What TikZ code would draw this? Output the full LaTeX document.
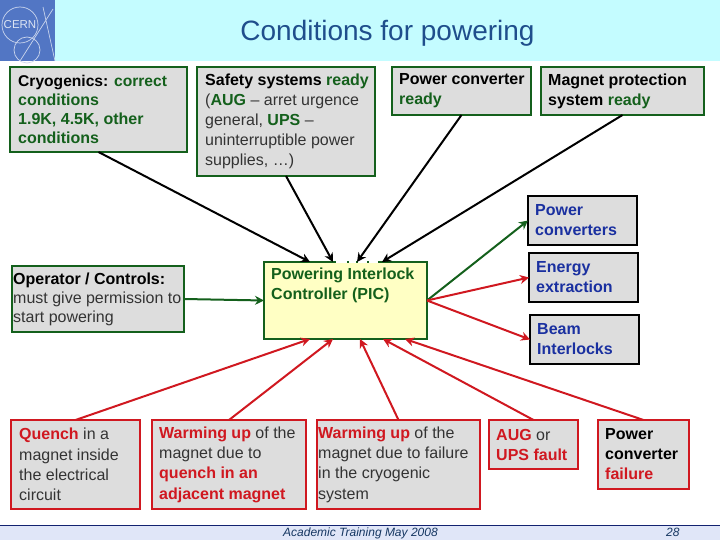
\documentclass[tikz,border=0pt]{standalone}
\usepackage{fontspec}
\setmainfont{Liberation Sans}
\usetikzlibrary{arrows.meta,calc}
\definecolor{gfill}{HTML}{DDDDDD}
\definecolor{dgreen}{HTML}{14601C}
\definecolor{dred}{HTML}{D01820}
\definecolor{dblue}{HTML}{1A30A0}
\definecolor{titleblue}{HTML}{1F4E8C}
\definecolor{headbg}{HTML}{C4FCFF}
\definecolor{footbg}{HTML}{E0E6F8}
\definecolor{picbg}{HTML}{FFFFC4}
\definecolor{logobg}{HTML}{5276C4}
\newcommand{\G}[1]{\textcolor{dgreen}{\textbf{#1}}}
\newcommand{\Rd}[1]{\textcolor{dred}{\textbf{#1}}}
\newcommand{\Bl}[1]{\textcolor{dblue}{\textbf{#1}}}
\newcommand{\Bf}[1]{\textcolor{black}{\textbf{#1}}}
\tikzset{x=1pt,y=-1pt,
  box/.style={draw,line width=2pt,fill=gfill,inner sep=0pt,outer sep=0pt,anchor=north west},
  gbox/.style={box,draw=dgreen},
  rbox/.style={box,draw=dred},
  kbox/.style={box,draw=black},
  arr/.style={line width=2pt,-{Stealth[length=9pt,width=9pt]}},
  karr/.style={arr,black},
  rarr/.style={arr,dred},
  garr/.style={arr,dgreen},
  foottext/.style={anchor=base west,inner sep=0pt,font=\fontsize{12}{14}\selectfont\itshape,text=titleblue!70!black}}
% name, style, x0, y0, x1, y1, text left x, line skip, text
\newcommand{\bx}[9]{%
  \pgfmathsetlengthmacro{\bw}{#5-#3}%
  \pgfmathsetlengthmacro{\bh}{#6-#4}%
  \node[#2,minimum width=\bw,minimum height=\bh] (#1) at (#3,#4) {};%
  \node[anchor=west,inner sep=0pt,align=left,text=black!80,font=\fontsize{16}{#8}\selectfont] (#1text) at (#7,{(#4+#6)/2}) {#9};%
}
\begin{document}
\begin{tikzpicture}
\useasboundingbox (0,0) rectangle (720,540);
\fill[headbg] (0,0) rectangle (720,61);
\fill[footbg] (0,525.5) rectangle (720,540);
\draw[line width=0.6pt,dblue!70!black] (0,525.5) -- (720,525.5);
% logo
\fill[logobg] (0,0) rectangle (55,61);
\draw[white!70!logobg,line width=0.7pt] (20,25) circle (18);
\draw[white!70!logobg,line width=0.7pt] (27,50) circle (13);
\draw[white!70!logobg,line width=0.7pt] (43,7) -- (55,61) (53,9) -- (20,61);
\node[white!80!logobg,font=\fontsize{11.5}{12}\selectfont,inner sep=0pt] (logo) at (20,25) {CERN};
\node[titleblue,font=\fontsize{28}{30}\selectfont,inner sep=0pt] (title) at (387.5,33) {Conditions for powering};
% top boxes
\bx{cryo}{gbox}{10}{67}{187}{152}{18}{19}{\fontsize{15.6}{19}\selectfont\Bf{Cryogenics:} \G{correct}\\\G{conditions}\\\G{1.9K, 4.5K, other}\\\G{conditions}}
\bx{saf}{gbox}{197}{67}{375}{176}{205}{20}{\Bf{Safety systems} \G{ready}\\(\G{AUG} -- arret urgence\\general, \G{UPS} --\\uninterruptible power\\supplies, \ldots)}
\bx{pc}{gbox}{392}{67}{531}{115}{399}{20}{\Bf{Power converter}\\\G{ready}}
\bx{mp}{gbox}{541}{67}{704}{115}{548}{20}{\Bf{Magnet protection}\\\Bf{system} \G{ready}}
% right boxes
\bx{pconv}{kbox}{528}{196}{637}{245}{535}{20}{\Bl{Power}\\\Bl{converters}}
\bx{energy}{kbox}{529}{253}{638}{302}{536}{20}{\Bl{Energy}\\\Bl{extraction}}
\bx{beam}{kbox}{530}{315}{639}{364}{537}{20}{\Bl{Beam}\\\Bl{Interlocks}}
% middle
\bx{op}{gbox}{12}{266}{184}{332}{13}{19}{\Bf{Operator / Controls:}\\must give permission to\\start powering}
\node[gbox,fill=picbg,minimum width=163pt,minimum height=77pt] (pic) at (264,262) {};
\node[anchor=west,inner sep=0pt,align=left,font=\fontsize{16}{20}\selectfont,text=dgreen] (pictext) at (271,285.5) {\textbf{Powering Interlock}\\\textbf{Controller (PIC)}};
\draw[white,line width=2.4pt,dash pattern=on 11pt off 2pt on 7pt off 2pt on 9pt off 2pt on 9pt off 9pt] (336,262) -- (378,262);
% bottom boxes
\bx{q}{rbox}{11}{420}{140}{509}{19}{20.3}{\Rd{Quench} in a\\magnet inside\\the electrical\\circuit}
\bx{wa}{rbox}{152}{420}{306}{509}{159}{20.3}{\Rd{Warming up} of the\\magnet due to\\\Rd{quench in an}\\\Rd{adjacent magnet}}
\bx{wb}{rbox}{317}{420}{480}{509}{318}{20.3}{\Rd{Warming up} of the\\magnet due to failure\\in the cryogenic\\system}
\bx{aug}{rbox}{489}{420}{578}{469}{496}{20}{\Rd{AUG} or\\\Rd{UPS fault}}
\bx{pf}{rbox}{598}{420}{689}{489}{605}{20}{\Bf{Power}\\\Bf{converter}\\\Rd{failure}}
% arrows
\draw[karr] (cryo.south) -- ($(pic.north west)+(46,0)$);
\draw[karr] (saf.south) -- ($(pic.north west)+(69,0)$);
\draw[karr] (pc.south) -- ($(pic.north west)+(93,0)$);
\draw[karr] (mp.south) -- ($(pic.north west)+(118,0)$);
\draw[garr] (op.east) -- (pic.west);
\draw[garr] (pic.east) -- (pconv.west);
\draw[rarr] (pic.east) -- (energy.west);
\draw[rarr] (pic.east) -- (beam.west);
\draw[rarr] (q.north) -- ($(pic.south west)+(46,0)$);
\draw[rarr] (wa.north) -- ($(pic.south west)+(69,0)$);
\draw[rarr] (wb.north) -- ($(pic.south west)+(96,0)$);
\draw[rarr] (aug.north) -- ($(pic.south west)+(119,0)$);
\draw[rarr] (pf.north) -- ($(pic.south west)+(141,0)$);
% footer
\node[foottext] (foot) at (283,536.5) {Academic Training May 2008};
\node[foottext] (num) at (666,536.5) {28};
\end{tikzpicture}
\end{document}
